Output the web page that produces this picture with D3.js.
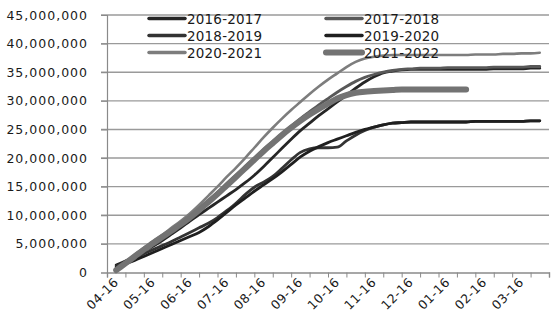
<!DOCTYPE html>
<html>
<head>
<meta charset="utf-8">
<script src="https://cdn.jsdelivr.net/npm/d3@7"></script>
<style>
  body { margin: 0; background: #fff; }
  svg text { font-family: "DejaVu Sans", Verdana, sans-serif; fill: #1a1a1a; }
</style>
</head>
<body>
<svg id="chart" width="560" height="326"></svg>
<script>
// weekly cumulative values (millions)
var s2016 = [1.3, 2.0, 2.8, 3.7, 4.6, 5.6, 6.7, 7.8, 9.0, 10.1, 11.2, 12.3, 13.4, 14.5, 15.7, 17.0, 18.5, 20.1, 21.7, 23.3, 24.8,
    26.1, 27.4, 28.6, 29.8, 31.0, 32.2, 33.3, 34.2, 34.9, 35.2, 35.4, 35.5, 35.5, 35.5, 35.5, 35.5, 35.5, 35.5, 35.5, 35.5,
    35.6, 35.6, 35.6, 35.6, 35.7, 35.7];
var s2017 = [0.6, 1.7, 2.9, 4.1, 5.2, 6.3, 7.5, 8.7, 9.9, 11.2, 12.6, 14.0, 15.5, 17.0, 18.5, 20.0, 21.5, 22.9, 24.3, 25.6, 26.9,
    28.1, 29.3, 30.4, 31.5, 32.5, 33.4, 34.1, 34.6, 35.0, 35.3, 35.5, 35.6, 35.7, 35.7, 35.7, 35.8, 35.8, 35.8, 35.8, 35.8,
    35.9, 35.9, 35.9, 35.9, 36.0, 36.0];
var s2018 = [1.1, 1.8, 2.5, 3.3, 4.0, 4.7, 5.4, 6.2, 7.0, 7.8, 8.6, 9.6, 10.8, 12.1, 13.6, 14.9, 15.8, 16.8, 18.2, 19.7, 21.0,
    21.6, 21.8, 21.8, 21.9, 23.0, 24.0, 24.8, 25.4, 25.8, 26.1, 26.2, 26.3, 26.3, 26.3, 26.3, 26.3, 26.3, 26.3, 26.4, 26.4,
    26.4, 26.4, 26.4, 26.4, 26.5, 26.5];
var s2019 = [0.9, 1.5, 2.1, 2.8, 3.5, 4.2, 4.9, 5.6, 6.3, 7.0, 8.0, 9.2, 10.5, 11.8, 13.0, 14.2, 15.3, 16.4, 17.6, 18.9, 20.2,
    21.2, 22.0, 22.7, 23.3, 23.9, 24.5, 25.0, 25.4, 25.8, 26.1, 26.2, 26.3, 26.3, 26.3, 26.3, 26.3, 26.3, 26.3, 26.4, 26.4,
    26.4, 26.4, 26.4, 26.4, 26.5, 26.5];
var s2020 = [0.5, 1.8, 3.1, 4.3, 5.5, 6.6, 7.8, 9.0, 10.3, 11.8, 13.4, 15.0, 16.7, 18.3, 20.0, 21.8, 23.6, 25.3, 26.9, 28.4, 29.8,
    31.2, 32.5, 33.7, 34.8, 35.9, 36.8, 37.4, 37.7, 37.9, 38.0, 38.0, 38.0, 38.0, 38.0, 38.0, 38.0, 38.0, 38.0, 38.1, 38.1,
    38.1, 38.2, 38.2, 38.3, 38.3, 38.4];
var s2021 = [0.4, 1.6, 2.8, 4.0, 5.1, 6.2, 7.3, 8.4, 9.6, 10.9, 12.3, 13.7, 15.2, 16.7, 18.2, 19.7, 21.2, 22.6, 24.0, 25.3, 26.5,
    27.6, 28.6, 29.5, 30.4, 31.0, 31.4, 31.6, 31.7, 31.8, 31.9, 32.0, 32.0, 32.0, 32.0, 32.0, 32.0, 32.0, 32.0];

var seriesNames = ["2016-2017", "2017-2018", "2018-2019", "2019-2020", "2020-2021", "2021-2022"];
var seriesValues = [s2016, s2017, s2018, s2019, s2020, s2021];
var monthLabels = ["04-16", "05-16", "06-16", "07-16", "08-16", "09-16", "10-16", "11-16", "12-16", "01-16", "02-16", "03-16"];
var yTicks = [0, 5e6, 10e6, 15e6, 20e6, 25e6, 30e6, 35e6, 40e6, 45e6];

var colors = ["#262626", "#585858", "#333333", "#1f1f1f", "#7d7d7d", "#737373"];
var widths = [2.8, 2.8, 2.8, 2.8, 2.6, 6];

var svg = d3.select("#chart");

var x = d3.scaleLinear().domain([0, 48]).range([107, 549]);
var y = d3.scaleLinear().domain([0, 45e6]).range([272.5, 15]);

// gridlines
svg.append("g")
    .selectAll("line")
    .data(yTicks.slice(1))
    .enter().append("line")
        .attr("x1", 101)
        .attr("x2", 549)
        .attr("y1", function (d) { return y(d); })
        .attr("y2", function (d) { return y(d); })
        .attr("stroke", "#9a9a9a")
        .attr("stroke-width", 1.4);

// y axis
var yAxis = svg.append("g")
    .attr("transform", "translate(107,0)")
    .call(d3.axisLeft(y)
        .tickValues(yTicks)
        .tickSize(6)
        .tickPadding(13)
        .tickFormat(d3.format(",")));
yAxis.select(".domain").attr("stroke", "#8a8a8a").attr("stroke-width", 1.2);
yAxis.selectAll("line").attr("stroke", "#8a8a8a");
yAxis.selectAll("text")
    .attr("font-size", 12.5)
    .attr("letter-spacing", 1)
    .attr("fill", "#1a1a1a");

// x axis ticks (every 2 weeks)
var xAxis = svg.append("g")
    .attr("transform", "translate(0,272.5)")
    .call(d3.axisBottom(x)
        .tickValues(d3.range(0, 49, 2))
        .tickSize(5)
        .tickFormat(""));
xAxis.select(".domain").attr("stroke", "#8a8a8a").attr("stroke-width", 1.4);
xAxis.selectAll("line").attr("stroke", "#8a8a8a");

// x labels, rotated
svg.append("g")
    .selectAll("text")
    .data(monthLabels)
    .enter().append("text")
        .attr("transform", function (d, i) {
            return "translate(" + (x(1 + i * 4) + 3) + ",283) rotate(-45)";
        })
        .attr("text-anchor", "end")
        .attr("font-size", 12.5)
        .attr("letter-spacing", 0.5)
        .text(function (d) { return d; });

// lines
var line = d3.line()
    .x(function (d, i) { return x(i + 1); })
    .y(function (d) { return y(d * 1e6); })
    .curve(d3.curveMonotoneX);

svg.append("g")
    .selectAll("path")
    .data(seriesValues)
    .enter().append("path")
        .attr("d", line)
        .attr("fill", "none")
        .attr("stroke", function (d, i) { return colors[i]; })
        .attr("stroke-width", function (d, i) { return widths[i]; })
        .attr("stroke-linecap", "round")
        .attr("stroke-linejoin", "round");

// legend, two columns
var legend = svg.append("g");
var legendItems = legend.selectAll("g")
    .data(seriesNames)
    .enter().append("g")
        .attr("transform", function (d, i) {
            var col = i % 2, row = Math.floor(i / 2);
            return "translate(" + (col === 0 ? 149 : 326) + "," + (18.5 + row * 17) + ")";
        });
legendItems.append("line")
    .attr("x1", 0)
    .attr("x2", 36)
    .attr("stroke", function (d, i) { return colors[i]; })
    .attr("stroke-width", function (d, i) { return i === 5 ? 6 : 3.5; })
    .attr("stroke-linecap", "round");
legendItems.append("text")
    .attr("x", 38)
    .attr("y", 5)
    .attr("font-size", 13.5)
    .attr("letter-spacing", 0.2)
    .text(function (d) { return d; });
</script>
</body>
</html>
